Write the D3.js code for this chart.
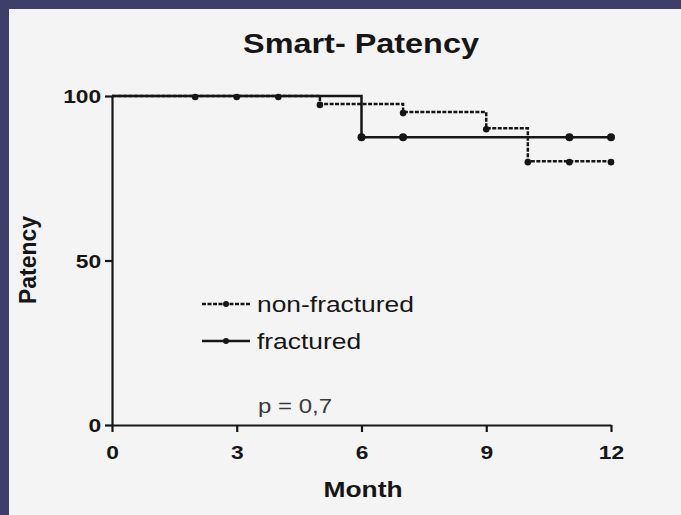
<!DOCTYPE html>
<html><head><meta charset="utf-8">
<script src="https://cdn.jsdelivr.net/npm/d3@7"></script>
<style>body{margin:0;background:#f4f4f4;overflow:hidden}</style>
</head><body><svg id="c" width="681" height="515"></svg>
<script>
const title = "Smart- Patency";
const xLabel = "Month";
const yLabel = "Patency";
const pText = "p = 0,7";
const xTicks = [0, 3, 6, 9, 12];
const yTicks = [0, 50, 100];
const seriesNames = ["non-fractured", "fractured"];
const nonFracSteps = [{t:0,s:100},{t:5,s:97.6},{t:7,s:95.1},{t:9,s:90.2},{t:10,s:80.2},{t:12,s:80.2}];
const fracSteps = [{t:0,s:100},{t:6,s:87.5},{t:12,s:87.5}];
const nonFracMarks = [{t:2,s:100},{t:3,s:100},{t:4,s:100},{t:5,s:97.6},{t:7,s:95.1},{t:9,s:90.2},{t:10,s:80.2},{t:11,s:80.2},{t:12,s:80.2}];
const fracMarks = [{t:6,s:87.5},{t:7,s:87.5},{t:11,s:87.5},{t:12,s:87.5}];

const SX = 1.2;
const ink = "#161616";
const svg = d3.select("#c");
svg.append("rect").attr("width",681).attr("height",515).attr("fill","#f4f4f4");
svg.append("rect").attr("width",681).attr("height",9).attr("fill","#3e3e68");
svg.append("rect").attr("width",9).attr("height",515).attr("fill","#3e3e68");

const x = d3.scaleLinear().domain([0,12]).range([112,611]);
const y = d3.scaleLinear().domain([0,100]).range([425,96]);

function stext(g, str, tx, ty, size, weight, anchor, sx, col){
  return g.append("text").text(str)
    .attr("transform",`translate(${tx},${ty}) scale(${sx},1)`)
    .attr("font-family","'Liberation Sans', Arial, sans-serif")
    .attr("font-size",size).attr("font-weight",weight)
    .attr("text-anchor",anchor).attr("fill",col||ink);
}

// axes
const xAxis = svg.append("g").attr("transform","translate(0,425)")
  .call(d3.axisBottom(x).tickValues(xTicks).tickSize(7).tickPadding(14).tickSizeOuter(0));
const yAxis = svg.append("g").attr("transform","translate(112,0)")
  .call(d3.axisLeft(y).tickValues(yTicks).tickSize(7).tickPadding(2).tickSizeOuter(0));
[xAxis,yAxis].forEach(a=>{
  a.select(".domain").attr("stroke",ink).attr("stroke-width",2.2);
  a.selectAll(".tick line").attr("stroke",ink).attr("stroke-width",2.2);
  a.selectAll("text").attr("font-family","'Liberation Sans', Arial, sans-serif")
    .attr("font-size",19).attr("font-weight","bold").attr("fill",ink);
});
xAxis.selectAll(".tick text").attr("transform",`scale(${SX},1)`);
yAxis.selectAll(".tick text").attr("transform",`scale(${SX},1)`).attr("dy","0.36em");

// curves
const line = d3.line().x(d=>x(d.t)).y(d=>y(d.s)).curve(d3.curveStepAfter);
svg.append("path").datum(fracSteps).attr("d",line).attr("fill","none")
  .attr("stroke",ink).attr("stroke-width",2.5);
svg.append("path").datum(nonFracSteps).attr("d",line).attr("fill","none")
  .attr("stroke",ink).attr("stroke-width",2.5).attr("stroke-dasharray","4,1.5");
svg.append("g").selectAll("circle").data(fracMarks).join("circle")
  .attr("cx",d=>x(d.t)).attr("cy",d=>y(d.s)).attr("r",4).attr("fill",ink);
svg.append("g").selectAll("circle").data(nonFracMarks).join("circle")
  .attr("cx",d=>x(d.t)).attr("cy",d=>y(d.s)+1).attr("r",3.3).attr("fill",ink);

// legend
const leg = svg.append("g");
const legY = [304, 341];
seriesNames.forEach((n,i)=>{
  leg.append("line").attr("x1",202).attr("x2",250).attr("y1",legY[i]).attr("y2",legY[i])
    .attr("stroke",ink).attr("stroke-width",2.5)
    .attr("stroke-dasharray", i===0 ? "4,1.5" : null);
  leg.append("circle").attr("cx",226).attr("cy",legY[i]).attr("r",3).attr("fill",ink);
  stext(leg, n, 257, legY[i]+7.5, 22, "normal", "start", SX);
});

stext(svg, pText, 258, 413, 20, "normal", "start", SX, "#3a3a3a");
stext(svg, title, 361, 53, 27, "bold", "middle", SX);
stext(svg, xLabel, 363, 497, 22, "bold", "middle", SX);
svg.append("text").text(yLabel)
  .attr("transform","translate(36,260) rotate(-90)")
  .attr("font-family","'Liberation Sans', Arial, sans-serif")
  .attr("font-size",23).attr("font-weight","bold").attr("text-anchor","middle").attr("fill",ink);
</script></body></html>
